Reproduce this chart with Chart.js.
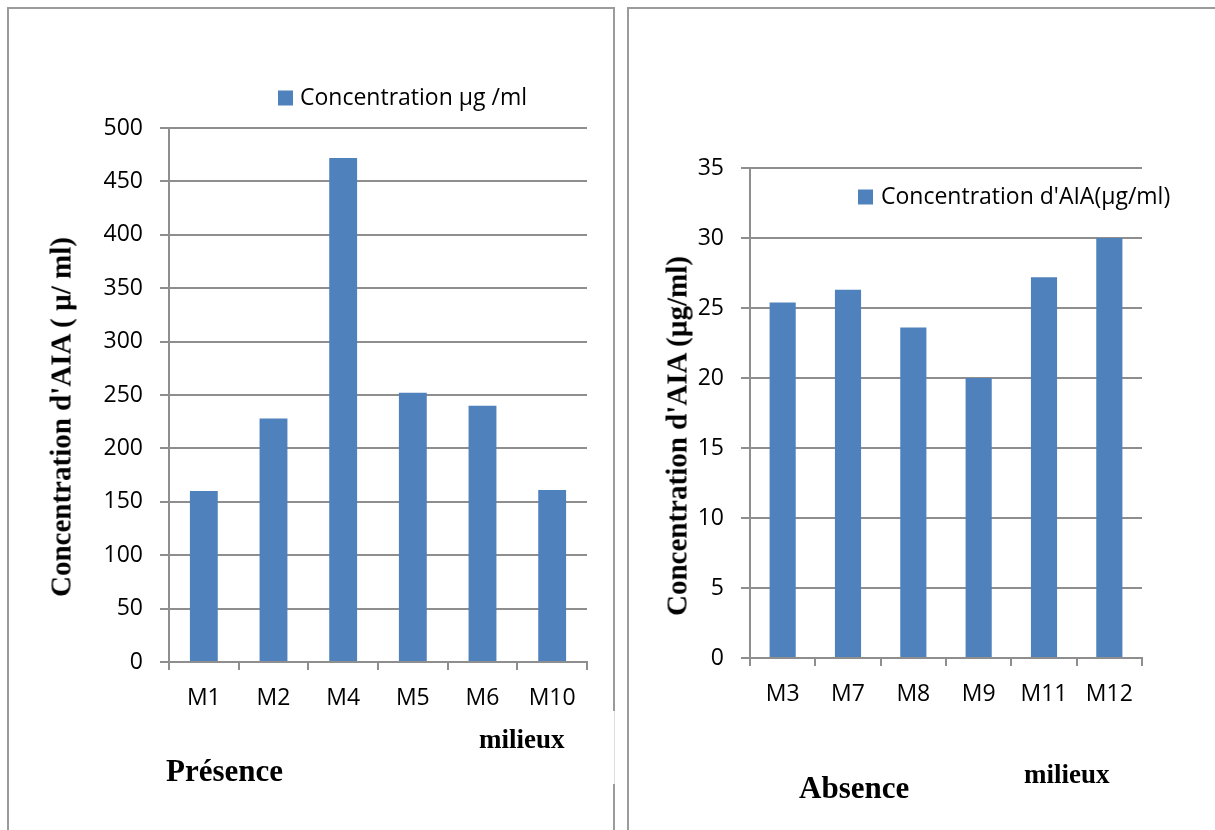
<!DOCTYPE html>
<html>
<head>
<meta charset="utf-8">
<script src="https://cdn.jsdelivr.net/npm/chart.js@4.4.1/dist/chart.umd.min.js"></script>
<style>
  html, body { margin: 0; padding: 0; background: #fff; }
  body { width: 1215px; height: 830px; position: relative; overflow: hidden; }
  canvas { position: absolute; top: 0; }
  .line { position: absolute; background: #9b9b9b; }
  .lbl { position: absolute; font-family: "Liberation Serif", "Times New Roman", serif; font-weight: bold; color: #000; white-space: nowrap; line-height: 1; }
  .ytitle { transform: translate(-50%, -50%) rotate(-90deg); }
</style>
</head>
<body>
<!-- panel frames -->
<div class="line" style="left:7px;top:7px;width:2px;height:823px;"></div>
<div class="line" style="left:7px;top:7px;width:608px;height:2px;"></div>
<div class="line" style="left:613px;top:7px;width:2px;height:704px;"></div>
<div class="line" style="left:614px;top:711px;width:1px;height:73px;background:#dedede;"></div>
<div class="line" style="left:613px;top:784px;width:2px;height:46px;"></div>
<div class="line" style="left:627px;top:7px;width:2px;height:823px;"></div>
<div class="line" style="left:627px;top:7px;width:588px;height:2px;"></div>

<canvas id="presence" width="615" height="830" style="left:0;"></canvas>
<canvas id="absence" width="595" height="830" style="left:620px;"></canvas>

<div class="lbl ytitle" style="left:61px;top:417px;font-size:29px;">Concentration d'AIA ( µ/ ml)</div>
<div class="lbl" style="left:479px;top:726px;font-size:27px;">milieux</div>
<div class="lbl" style="left:166px;top:755px;font-size:31px;">Présence</div>

<div class="lbl ytitle" style="left:677px;top:436px;font-size:29px;">Concentration d'AIA (µg/ml)</div>
<div class="lbl" style="left:1024px;top:761px;font-size:27px;">milieux</div>
<div class="lbl" style="left:799px;top:772px;font-size:31px;">Absence</div>

<script>
// Présence de tryptophane
const presenceLabels = ['M1', 'M2', 'M4', 'M5', 'M6', 'M10'];
const presenceValues = [160, 228, 472, 252, 240, 161];
const presenceSeries = 'Concentration µg /ml';

// Absence de tryptophane
const absenceLabels = ['M3', 'M7', 'M8', 'M9', 'M11', 'M12'];
const absenceValues = [25.4, 26.3, 23.6, 20, 27.2, 30];
const absenceSeries = "Concentration d'AIA(µg/ml)";

const BAR_BLUE = '#4F81BD';
const GRID = '#8e8e8e';
const TICK_FONT = { family: '"Open Sans", sans-serif', size: 23 };

// Legend entry drawn at a fixed spot inside the canvas
const inlineLegend = {
  id: 'inlineLegend',
  afterDraw(chart, args, opts) {
    const ds = chart.data.datasets[0];
    const ctx = chart.ctx;
    ctx.save();
    ctx.fillStyle = ds.backgroundColor;
    ctx.fillRect(opts.x, opts.y - opts.box / 2, opts.box, opts.box);
    ctx.font = `${TICK_FONT.size}px ${TICK_FONT.family}`;
    ctx.fillStyle = '#000';
    ctx.textBaseline = 'middle';
    ctx.textAlign = 'left';
    ctx.fillText(ds.label, opts.x + opts.box + opts.gap, opts.y);
    ctx.restore();
  }
};

function makeChart(id, labels, values, series, cfg) {
  return new Chart(document.getElementById(id), {
    type: 'bar',
    data: {
      labels: labels,
      datasets: [{
        label: series,
        data: values,
        backgroundColor: BAR_BLUE,
        borderWidth: 0,
        categoryPercentage: 1,
        barPercentage: 0.4
      }]
    },
    options: {
      responsive: false,
      animation: false,
      devicePixelRatio: 1,
      layout: { padding: { top: cfg.top, right: cfg.right, left: 0, bottom: 0 } },
      plugins: {
        legend: { display: false },
        tooltip: { enabled: false },
        inlineLegend: cfg.legend
      },
      scales: {
        x: {
          afterFit(scale) { scale.height = cfg.xHeight; },
          grid: { display: true, offset: true, drawOnChartArea: false, drawTicks: true, tickLength: 8, color: GRID, lineWidth: 2 },
          border: { display: true, color: GRID, width: 2 },
          ticks: { color: '#000', font: TICK_FONT, padding: 15, maxRotation: 0, autoSkip: false }
        },
        y: {
          min: 0,
          max: cfg.max,
          afterFit(scale) { scale.width = cfg.yWidth; },
          grid: { color: GRID, lineWidth: 2, drawTicks: true, tickLength: 9 },
          border: { display: true, color: GRID, width: 2 },
          ticks: { stepSize: cfg.step, color: '#000', font: TICK_FONT, padding: 17 }
        }
      }
    },
    plugins: [inlineLegend]
  });
}

makeChart('presence', presenceLabels, presenceValues, presenceSeries, {
  top: 128, right: 28, xHeight: 168, yWidth: 169, max: 500, step: 50,
  legend: { x: 278, y: 98, box: 15, gap: 7 }
});

makeChart('absence', absenceLabels, absenceValues, absenceSeries, {
  top: 168, right: 73, xHeight: 172, yWidth: 130, max: 35, step: 5,
  legend: { x: 238, y: 197, box: 15, gap: 8 }
});
</script>
</body>
</html>
